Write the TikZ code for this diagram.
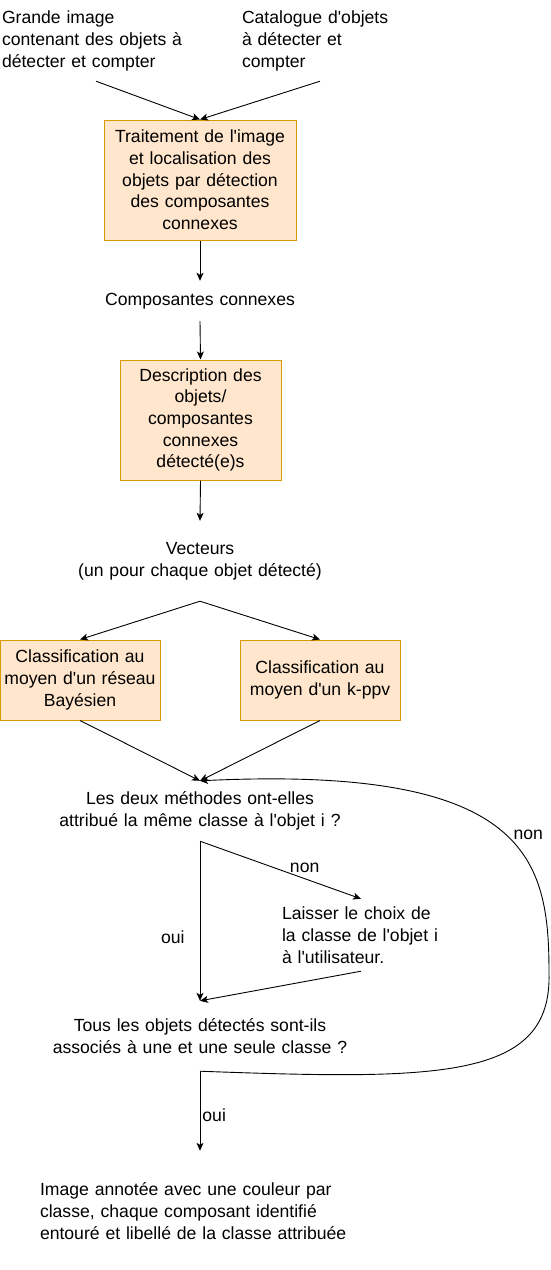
\documentclass[tikz,border=0pt]{standalone}
\usepackage{fontspec}
\setmainfont{Liberation Sans}[Ligatures=TeXOff]
\usepackage{xcolor}
\usetikzlibrary{arrows.meta}
\definecolor{ink}{HTML}{000000}
\definecolor{procfill}{HTML}{FFE6CC}
\definecolor{procline}{HTML}{D79B00}

\begin{document}
\begin{tikzpicture}[
  x=1pt, y=-1pt,
  font=\fontsize{17.6}{21.7}\selectfont,
  >={Stealth[length=8pt,width=7pt,inset=2pt]},
  proc/.style 2 args={
    draw=procline,
    fill=procfill,
    line width=1pt,
    align=center,
    inner sep=2pt,
    text width=#1,
    minimum height=#2
  },
  txt/.style 2 args={
    inner sep=0pt,
    align=center,
    text width=#1,
    minimum height=#2
  },
  ltxt/.style 2 args={txt={#1}{#2}, align=left},
  flow/.style={->, line width=0.9pt, draw=ink},
  lbl/.style={inner sep=0pt}
]

% canvas
\useasboundingbox (0,0) rectangle (550,1270);

% Inputs
\node[ltxt={188pt}{80pt}] (image) at (96,41) {Grande image\\contenant des objets à\\détecter et compter};
\node[ltxt={156pt}{80pt}] (catalogue) at (320,41) {Catalogue d'objets\\à détecter et\\compter};

% Detection
\node[proc={188pt}{120pt}] (traitement) at (200,180) {Traitement de l'image\\et localisation des\\objets par détection\\des composantes\\connexes};
\node[txt={220pt}{40pt}] (composantes) at (200,301) {Composantes connexes};
\node[proc={157pt}{120pt}] (description) at (200.5,420) {Description des\\objets/\\composantes\\connexes\\détecté(e)s};
\node[txt={300pt}{80pt}] (vecteurs) at (200,561) {Vecteurs\\(un pour chaque objet détecté)};

% Classifiers
\node[proc={156pt}{80pt}] (bayes) at (80,680) {Classification au\\moyen d'un réseau\\Bayésien};
\node[proc={156pt}{80pt}] (kppv) at (320,680) {Classification au\\moyen d'un k-ppv};

% Decisions
\node[txt={300pt}{60pt}] (methodes) at (200,811) {Les deux méthodes ont-elles\\attribué la même classe à l'objet i ?};
\node[ltxt={158pt}{72pt}] (laisser) at (361,935) {Laisser le choix de\\la classe de l'objet i\\à l'utilisateur.};
\node[txt={340pt}{70pt}] (tous) at (200,1036) {Tous les objets détectés sont-ils\\associés à une et une seule classe ?};
\node[ltxt={320pt}{120pt}] (annotee) at (200,1211) {Image annotée avec une couleur par\\classe, chaque composant identifié\\entouré et libellé de la classe attribuée};

% Arrows
\draw[flow] (image.south) -- (traitement.north);
\draw[flow] (catalogue.south) -- (traitement.north);
\draw[flow] (traitement.south) -- (composantes.north);
\draw[flow] (composantes.south) -- (description.north);
\draw[flow] (description.south) -- (vecteurs.north);
\draw[flow] (vecteurs.south) -- (bayes.north);
\draw[flow] (vecteurs.south) -- (kppv.north);
\draw[flow] (bayes.south) -- (methodes.north);
\draw[flow] (kppv.south) -- (methodes.north);
\draw[flow] (methodes.south) -- node[lbl, pos=0.6, left=15pt] {oui} (tous.north);
\draw[flow] (methodes.south) -- node[lbl, pos=0.65, above=6pt] {non} (laisser.north);
\draw[flow] (laisser.south) -- (tous.north);
\draw[flow] (tous.south) -- node[lbl, pos=0.55, right=2pt] {oui} (annotee.north);

% Loop back
\draw[flow] (tous.south) .. controls (440,1080) and (552,1080) .. (549,973)
  .. controls (549,860) and (530,765) .. (methodes.north)
  node[lbl, pos=0.47, right=7pt] {non};

\end{tikzpicture}
\end{document}
